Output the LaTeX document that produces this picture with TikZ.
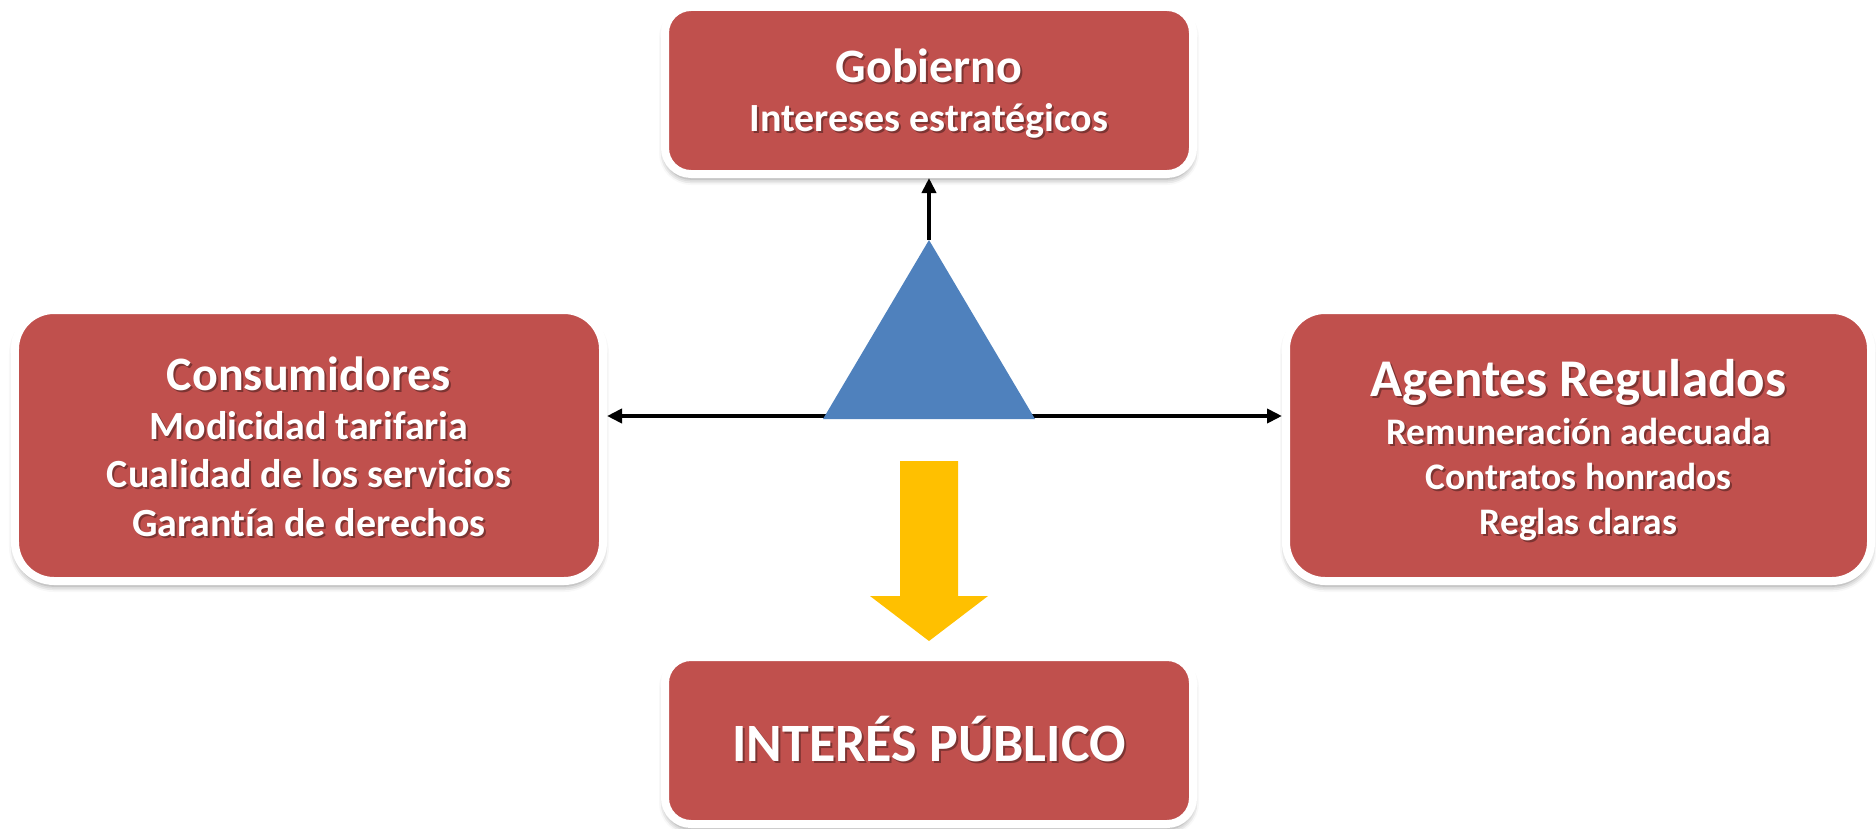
\documentclass[tikz,border=0pt]{standalone}
\usepackage{fontspec}
\setmainfont{Carlito}[Ligatures=NoCommon]
\usetikzlibrary{arrows.meta,shadows.blur}
\definecolor{boxred}{HTML}{C0504D}
\definecolor{triblue}{HTML}{4F81BD}
\definecolor{arrowyellow}{HTML}{FFC000}
\newcommand\txtGob{{\fontsize{48bp}{49bp}\selectfont Gobierno}\\Intereses estratégicos}
\newcommand\txtCons{{\fontsize{48bp}{48.5bp}\selectfont Consumidores}\\Modicidad tarifaria\\Cualidad de los servicios\\Garantía de derechos}
\newcommand\txtAgen{{\fontsize{53bp}{45bp}\selectfont Agentes Regulados}\\[3bp]Remuneración adecuada\\Contratos honrados\\Reglas claras}
\newcommand\txtPub{INTERÉS PÚBLICO}
\tikzset{
 redbox/.style={rectangle, draw=white, line width=8bp, fill=boxred, inner sep=0pt,
   blur shadow={shadow xshift=0bp, shadow yshift=-5bp, shadow blur radius=6bp, shadow opacity=45}},
 boxtext/.style={text=white, align=center, inner sep=0pt, font=\bfseries\fontsize{40bp}{48.5bp}\selectfont},
 shadowtext/.style={boxtext, text=black, text opacity=0.35},
 agtext/.style={font=\bfseries\fontsize{37.5bp}{45bp}\selectfont},
 pubfont/.style={font=\bfseries\fontsize{54bp}{54bp}\selectfont},
 link/.style={line width=4bp, -{Triangle[length=15bp,width=14bp]}},
 biglink/.style={line width=4bp, {Triangle[length=15bp,width=14bp]}-{Triangle[length=15bp,width=14bp]}},
}
\begin{document}
\begin{tikzpicture}[x=1bp,y=-1bp]
\useasboundingbox (0,0) rectangle (1876,829);
% boxes
\node[redbox, minimum width=528bp, minimum height=167bp, rounded corners=26bp] (gob) at (929,90.5) {};
\node[redbox, minimum width=588bp, minimum height=271bp, rounded corners=39bp] (cons) at (309,445.5) {};
\node[redbox, minimum width=585bp, minimum height=271bp, rounded corners=39bp] (agen) at (1578.5,445.5) {};
\node[redbox, minimum width=528bp, minimum height=167bp, rounded corners=26bp] (pub) at (929,740.5) {};
% texts
\node[shadowtext] (gobts) at ([shift={(2,5)}]gob.center) {\txtGob};
\node[boxtext] (gobt) at ([shift={(0,3)}]gob.center) {\txtGob};
\node[shadowtext] (consts) at ([shift={(2,3.5)}]cons.center) {\txtCons};
\node[boxtext] (const) at ([shift={(0,1.5)}]cons.center) {\txtCons};
\node[shadowtext, agtext] (agents) at ([shift={(2,7)}]agen.center) {\txtAgen};
\node[boxtext, agtext] (agent) at ([shift={(0,5)}]agen.center) {\txtAgen};
\node[shadowtext, pubfont] (pubts) at ([shift={(2,1)}]pub.center) {\txtPub};
\node[boxtext, pubfont] (pubt) at ([shift={(0,-1)}]pub.center) {\txtPub};
% connectors
\coordinate (hub) at (929,416);
\coordinate (apex) at (929,240);
\coordinate (bl) at (823,419);
\coordinate (br) at (1035,419);
\draw[biglink] (cons.east |- hub) -- (agen.west |- hub);
\draw[link] (apex) -- (gob.south);
\fill[triblue] (apex) -- (br) -- (bl) -- cycle;
% yellow arrow
\fill[arrowyellow] (900,461) -- (958,461) -- (958,596) -- (988,596) -- (929,641) -- (870,596) -- (900,596) -- cycle;
\end{tikzpicture}
\end{document}
